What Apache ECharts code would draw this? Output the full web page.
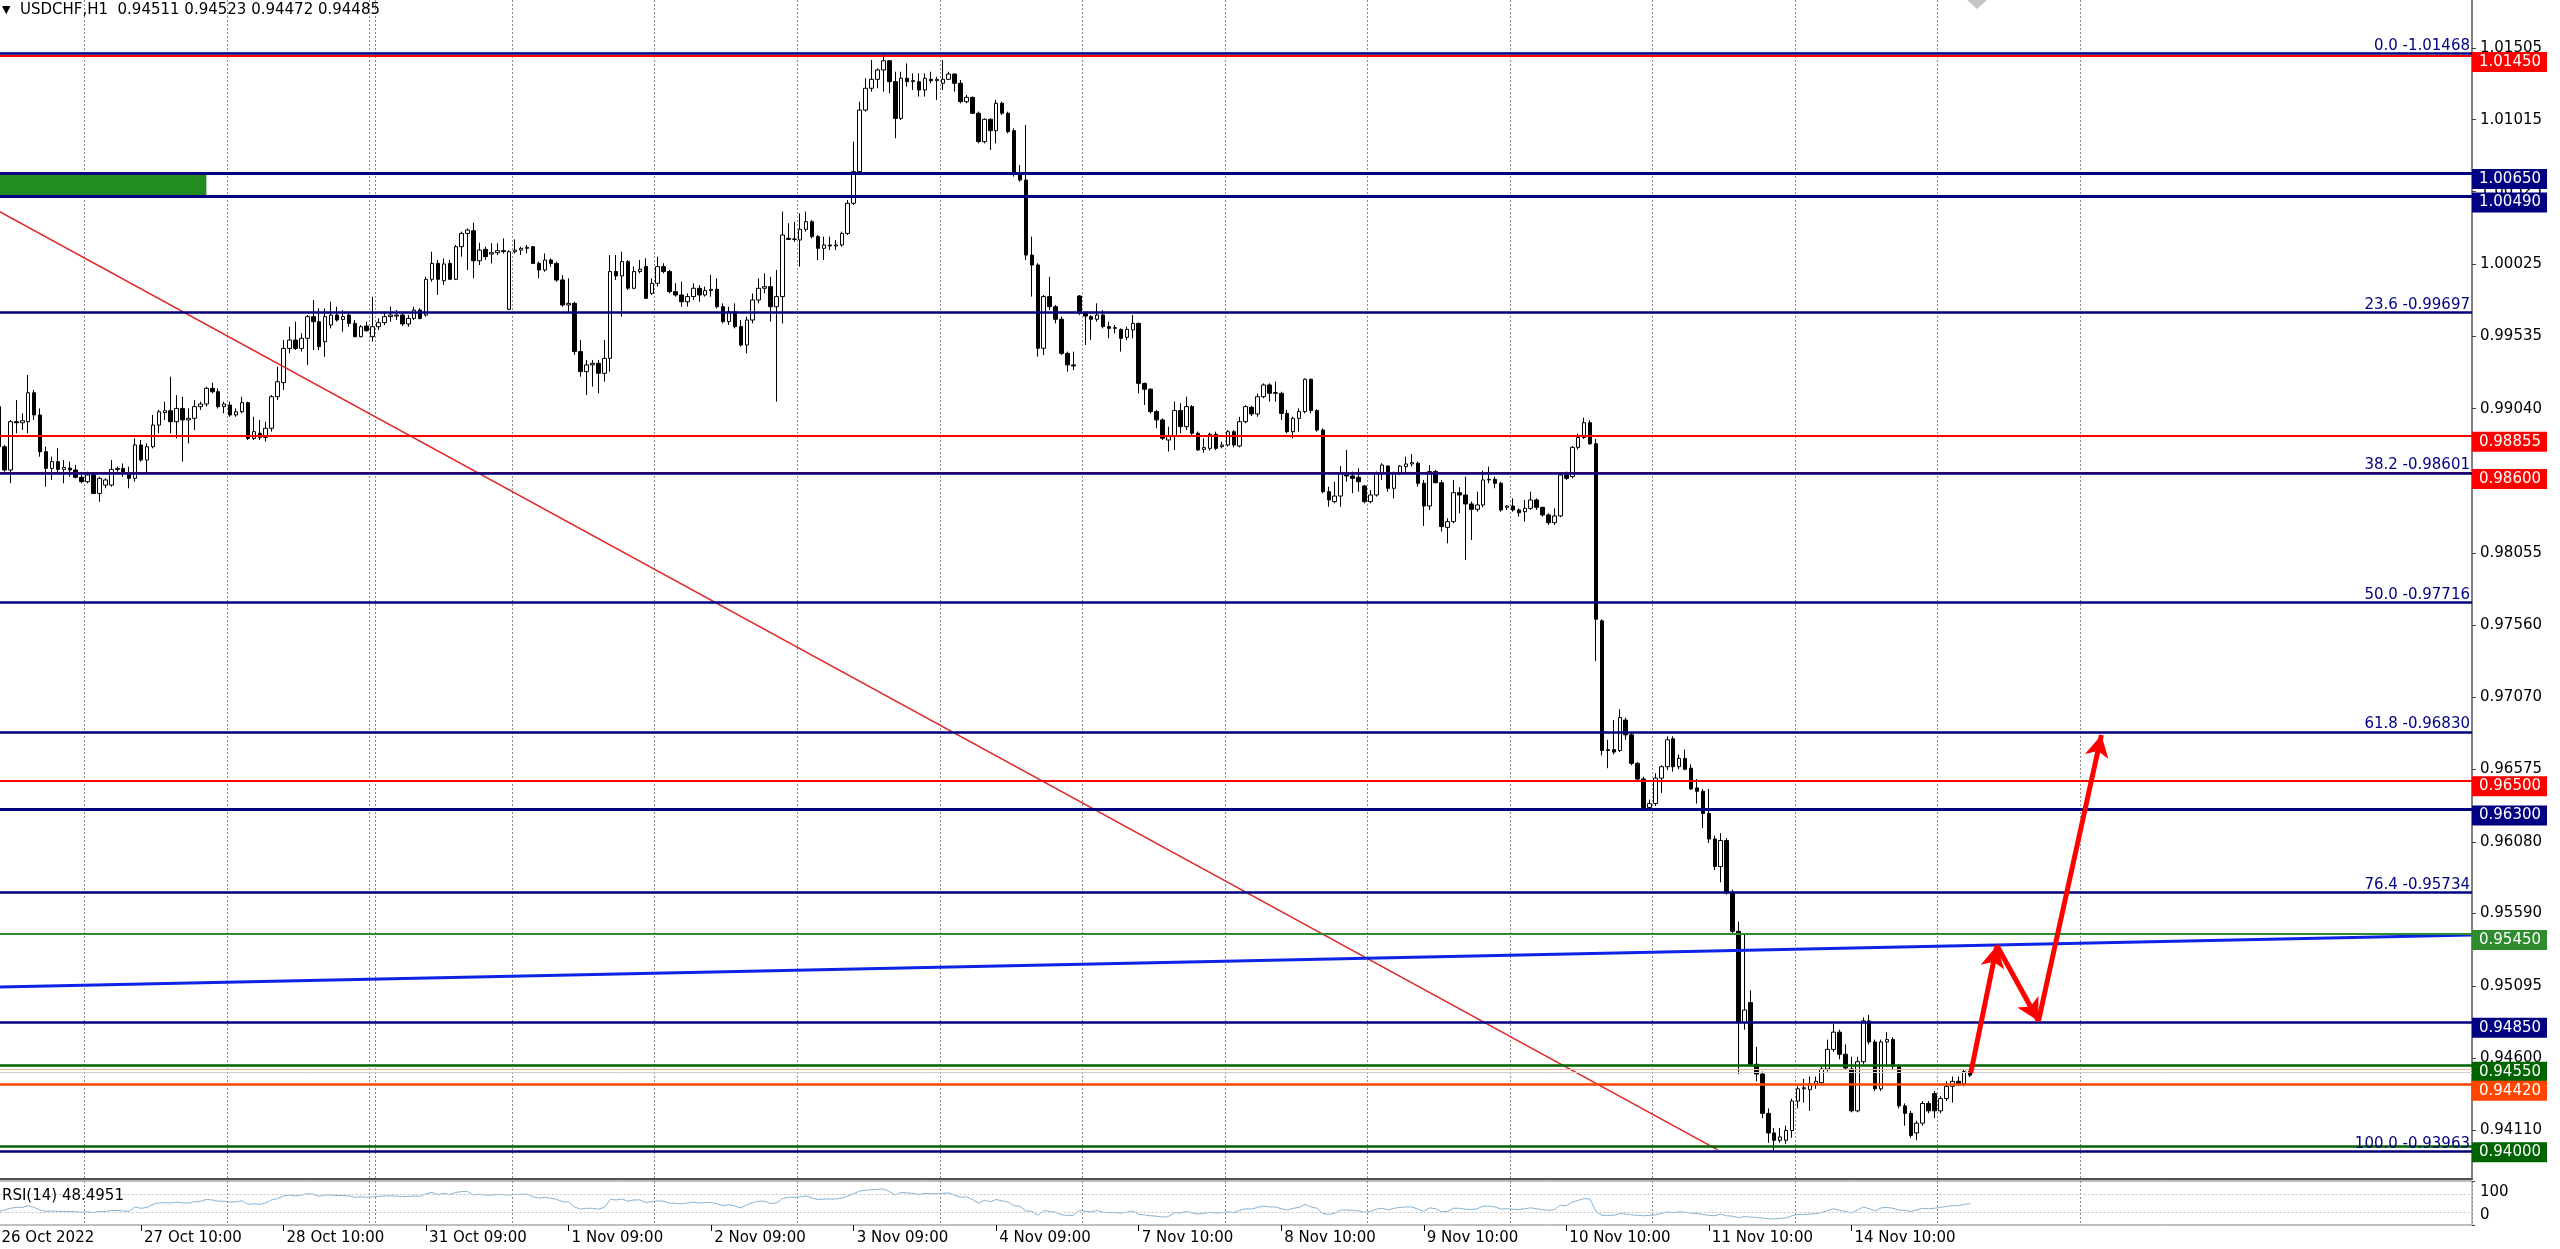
<!DOCTYPE html>
<html><head><meta charset="utf-8">
<script src="https://cdn.jsdelivr.net/npm/echarts@6/dist/echarts.min.js"></script>
<style>html,body{margin:0;padding:0;background:#fff;overflow:hidden}#chart{width:2560px;height:1249px}</style>
</head><body><div id="chart"></div>
<script>
// ---------------- DATA ----------------
const symbolName = 'USDCHF,H1';
const timeLabels = ['26 Oct 2022','27 Oct 10:00','28 Oct 10:00','31 Oct 09:00','1 Nov 09:00','2 Nov 09:00','3 Nov 09:00','4 Nov 09:00','7 Nov 10:00','8 Nov 10:00','9 Nov 10:00','10 Nov 10:00','11 Nov 10:00','14 Nov 10:00'];
const opens = [
0.99054,0.98780,0.98621,0.98951,0.98944,0.98951,0.99149,0.98997,0.98746,0.98632,
0.98678,0.98625,0.98634,0.98621,0.98571,0.98541,0.98587,0.98461,0.98518,0.98518,
0.98625,0.98632,0.98598,0.98564,0.98792,0.98689,0.98780,0.98928,0.99013,0.99026,
0.98951,0.99042,0.98963,0.98974,0.99054,0.99072,0.99179,0.99156,0.99054,0.99065,
0.98997,0.99019,0.99081,0.98837,0.98872,0.98844,0.98906,0.99122,0.99218,0.99452,
0.99509,0.99452,0.99521,0.99669,0.99635,0.99498,0.99612,0.99680,0.99650,0.99680,
0.99623,0.99532,0.99605,0.99532,0.99600,0.99628,0.99669,0.99673,0.99680,0.99619,
0.99657,0.99714,0.99680,0.99924,1.00033,0.99915,1.00033,0.99924,1.00147,1.00238,
1.00256,1.00051,1.00129,1.00097,1.00106,1.00120,0.99719,1.00113,1.00124,1.00136,
1.00147,1.00033,0.99988,1.00056,1.00033,0.99920,0.99749,0.99760,0.99430,0.99293,
0.99339,0.99350,0.99282,0.99384,0.99977,0.99947,1.00045,0.99863,0.99977,1.00011,
0.99828,0.99897,1.00011,0.99977,0.99840,0.99817,0.99771,0.99806,0.99863,0.99817,
0.99847,0.99856,0.99737,0.99635,0.99703,0.99601,0.99475,0.99646,0.99783,0.99863,
0.99874,0.99737,0.99806,1.00204,1.00197,1.00193,1.00266,1.00318,1.00216,1.00136,
1.00159,1.00152,1.00159,1.00238,1.00444,1.00660,1.01081,1.01230,1.01291,1.01355,
1.01418,1.01275,1.01024,1.01298,1.01275,1.01275,1.01218,1.01291,1.01282,1.01264,
1.01291,1.01327,1.01264,1.01138,1.01168,1.01059,1.00865,1.01018,1.00940,1.01127,
1.01059,1.00940,1.00653,1.00603,1.00090,1.00022,0.99453,0.99806,0.99737,0.99651,
0.99418,0.99339,0.99810,0.99692,0.99669,0.99651,0.99680,0.99601,0.99589,0.99582,
0.99528,0.99578,0.99623,0.99213,0.99173,0.99020,0.98963,0.98826,0.98849,0.99027,
0.98917,0.99054,0.98872,0.98762,0.98769,0.98865,0.98781,0.98792,0.98883,0.98785,
0.98951,0.99049,0.99004,0.99122,0.99202,0.99145,0.99145,0.99008,0.98883,0.98974,
0.99020,0.99241,0.99027,0.98894,0.98473,0.98405,0.98443,0.98587,0.98580,0.98571,
0.98512,0.98405,0.98450,0.98598,0.98648,0.98496,0.98598,0.98644,0.98662,0.98667,
0.98530,0.98375,0.98610,0.98534,0.98229,0.98268,0.98466,0.98450,0.98389,0.98352,
0.98382,0.98553,0.98557,0.98530,0.98366,0.98375,0.98348,0.98336,0.98359,0.98416,
0.98366,0.98314,0.98261,0.98307,0.98587,0.98576,0.98776,0.98843,0.98944,0.98800,
0.97590,0.96704,0.96710,0.96704,0.96912,0.96811,0.96616,0.96509,0.96314,0.96341,
0.96515,0.96593,0.96784,0.96593,0.96650,0.96583,0.96448,0.96425,0.96274,0.96099,
0.95911,0.96089,0.95736,0.95468,0.94846,0.94981,0.94560,0.94493,0.94224,0.94090,
0.94040,0.94040,0.94107,0.94308,0.94392,0.94386,0.94426,0.94433,0.94527,0.94661,
0.94779,0.94628,0.94527,0.94241,0.94577,0.94856,0.94712,0.94392,0.94712,0.94728,
0.94544,0.94275,0.94224,0.94090,0.94157,0.94292,0.94359,0.94241,0.94325,0.94409,
0.94443,0.94426,0.94511];
const highs = [
0.99224,0.98792,0.98963,0.99099,0.99008,0.99270,0.99168,0.99042,0.98780,0.98712,
0.98769,0.98689,0.98678,0.98655,0.98587,0.98609,0.98598,0.98575,0.98564,0.98689,
0.98644,0.98666,0.98644,0.98837,0.98826,0.98803,0.98997,0.99031,0.99088,0.99259,
0.99133,0.99122,0.99042,0.99099,0.99088,0.99190,0.99218,0.99179,0.99088,0.99088,
0.99042,0.99122,0.99088,0.98985,0.98963,0.98951,0.99133,0.99327,0.99509,0.99600,
0.99635,0.99555,0.99680,0.99783,0.99726,0.99726,0.99771,0.99737,0.99714,0.99692,
0.99646,0.99612,0.99635,0.99805,0.99657,0.99703,0.99737,0.99714,0.99692,0.99680,
0.99737,0.99726,0.99942,1.00113,1.00056,1.00067,1.00056,1.00159,1.00250,1.00272,
1.00311,1.00174,1.00147,1.00170,1.00170,1.00204,1.00124,1.00197,1.00147,1.00159,
1.00152,1.00045,1.00101,1.00067,1.00045,0.99954,0.99931,0.99771,0.99510,0.99373,
0.99373,0.99373,0.99510,1.00090,1.00090,1.00113,1.00056,1.00011,1.00056,1.00068,
0.99931,1.00079,1.00034,0.99988,0.99897,0.99908,0.99828,0.99897,0.99885,0.99874,
0.99954,0.99931,0.99760,0.99737,0.99760,0.99646,0.99669,0.99828,0.99931,0.99965,
0.99942,0.99988,1.00387,1.00307,1.00318,1.00375,1.00387,1.00330,1.00227,1.00216,
1.00216,1.00193,1.00250,1.00466,1.00865,1.01138,1.01298,1.01423,1.01366,1.01468,
1.01423,1.01343,1.01343,1.01400,1.01332,1.01332,1.01332,1.01343,1.01309,1.01423,
1.01343,1.01332,1.01286,1.01184,1.01173,1.01070,1.01024,1.01024,1.01150,1.01138,
1.01070,1.00956,1.00705,1.00979,1.00216,1.00034,0.99817,0.99942,0.99749,0.99669,
0.99430,0.99430,0.99817,0.99703,0.99680,0.99760,0.99714,0.99635,0.99612,0.99589,
0.99601,0.99680,0.99628,0.99218,0.99179,0.99031,0.98974,0.98917,0.99088,0.99077,
0.99122,0.99065,0.98883,0.98838,0.98876,0.98883,0.98815,0.98894,0.98894,0.98985,
0.99065,0.99059,0.99145,0.99213,0.99213,0.99225,0.99156,0.99031,0.98985,0.99042,
0.99247,0.99247,0.99036,0.98906,0.98507,0.98541,0.98648,0.98758,0.98610,0.98633,
0.98518,0.98484,0.98610,0.98667,0.98655,0.98610,0.98655,0.98712,0.98730,0.98678,
0.98553,0.98655,0.98621,0.98553,0.98291,0.98553,0.98503,0.98576,0.98405,0.98473,
0.98617,0.98644,0.98576,0.98541,0.98382,0.98427,0.98359,0.98416,0.98473,0.98427,
0.98370,0.98325,0.98359,0.98598,0.98610,0.98785,0.98870,0.98978,0.98961,0.98833,
0.97601,0.96777,0.96912,0.96986,0.96929,0.96828,0.96626,0.96525,0.96368,0.96549,
0.96603,0.96801,0.96801,0.96677,0.96710,0.96610,0.96509,0.96441,0.96441,0.96122,
0.96139,0.96106,0.95753,0.95535,0.95451,0.95065,0.94678,0.94510,0.94258,0.94124,
0.94124,0.94140,0.94325,0.94409,0.94460,0.94476,0.94476,0.94544,0.94728,0.94836,
0.94796,0.94695,0.94611,0.94611,0.94880,0.94897,0.94728,0.94728,0.94779,0.94745,
0.94560,0.94292,0.94241,0.94174,0.94308,0.94308,0.94376,0.94342,0.94443,0.94476,
0.94476,0.94527,0.94523];
const lows = [
0.98735,0.98609,0.98530,0.98872,0.98894,0.98872,0.98963,0.98712,0.98507,0.98553,
0.98598,0.98530,0.98575,0.98564,0.98530,0.98530,0.98456,0.98404,0.98496,0.98507,
0.98609,0.98575,0.98496,0.98541,0.98678,0.98598,0.98769,0.98872,0.98963,0.98872,
0.98837,0.98678,0.98803,0.98894,0.99031,0.99054,0.99145,0.99042,0.99008,0.98985,
0.98985,0.99008,0.98826,0.98826,0.98826,0.98815,0.98883,0.99099,0.99168,0.99418,
0.99441,0.99430,0.99338,0.99441,0.99441,0.99395,0.99589,0.99635,0.99566,0.99600,
0.99528,0.99528,0.99566,0.99498,0.99578,0.99612,0.99635,0.99646,0.99605,0.99600,
0.99646,0.99650,0.99669,0.99908,0.99817,0.99885,0.99919,0.99919,1.00079,0.99988,
0.99931,1.00022,1.00056,1.00033,1.00090,1.00101,0.99714,1.00101,1.00090,1.00101,
1.00029,0.99931,0.99976,1.00010,0.99908,0.99737,0.99703,0.99407,0.99259,0.99134,
0.99191,0.99145,0.99225,0.99293,0.99920,0.99669,0.99851,0.99856,0.99965,0.99790,
0.99817,0.99874,0.99965,0.99828,0.99806,0.99737,0.99737,0.99783,0.99771,0.99806,
0.99806,0.99726,0.99623,0.99612,0.99589,0.99464,0.99418,0.99623,0.99760,0.99828,
0.99635,0.99088,0.99623,1.00193,1.00181,1.00011,1.00250,1.00204,1.00056,1.00056,
1.00124,1.00124,1.00147,1.00227,1.00432,1.00648,1.01070,1.01207,1.01230,1.01207,
1.01195,1.00888,1.01013,1.01241,1.01218,1.01173,1.01173,1.01264,1.01150,1.01218,
1.01286,1.01207,1.01127,1.01127,1.01054,1.00853,1.00853,1.00808,1.00853,1.01047,
1.00922,1.00626,1.00592,1.00056,0.99806,0.99396,0.99407,0.99714,0.99623,0.99407,
0.99293,0.99304,0.99680,0.99475,0.99509,0.99635,0.99589,0.99521,0.99555,0.99430,
0.99509,0.99521,0.99145,0.99065,0.99008,0.98906,0.98826,0.98747,0.98758,0.98872,
0.98894,0.98860,0.98753,0.98739,0.98753,0.98758,0.98769,0.98781,0.98776,0.98776,
0.98940,0.98990,0.98985,0.99111,0.99088,0.99088,0.98963,0.98872,0.98838,0.98883,
0.99008,0.99008,0.98883,0.98462,0.98370,0.98393,0.98370,0.98541,0.98462,0.98473,
0.98393,0.98393,0.98439,0.98553,0.98473,0.98427,0.98587,0.98598,0.98644,0.98507,
0.98238,0.98348,0.98530,0.98200,0.98120,0.98257,0.98325,0.98006,0.98143,0.98336,
0.98366,0.98530,0.98496,0.98336,0.98348,0.98336,0.98302,0.98268,0.98348,0.98348,
0.98302,0.98245,0.98245,0.98298,0.98553,0.98564,0.98760,0.98833,0.98793,0.97315,
0.96670,0.96583,0.96677,0.96693,0.96777,0.96603,0.96492,0.96307,0.96300,0.96324,
0.96414,0.96570,0.96559,0.96576,0.96569,0.96435,0.96341,0.96173,0.96072,0.95887,
0.95803,0.95719,0.95451,0.94493,0.94796,0.94544,0.94443,0.94191,0.94023,0.93965,
0.94023,0.94016,0.94057,0.94258,0.94298,0.94241,0.94392,0.94419,0.94510,0.94644,
0.94594,0.94520,0.94231,0.94231,0.94560,0.94695,0.94376,0.94376,0.94544,0.94527,
0.94258,0.94140,0.94057,0.94040,0.94140,0.94224,0.94191,0.94224,0.94308,0.94298,
0.94409,0.94409,0.94472];
const closes = [
0.98780,0.98621,0.98951,0.98944,0.98958,0.99149,0.98997,0.98746,0.98632,0.98678,
0.98625,0.98639,0.98621,0.98571,0.98541,0.98587,0.98461,0.98564,0.98553,0.98625,
0.98632,0.98598,0.98564,0.98792,0.98689,0.98780,0.98928,0.99019,0.99026,0.98951,
0.99042,0.98963,0.98974,0.99054,0.99072,0.99179,0.99156,0.99054,0.99072,0.98997,
0.99019,0.99081,0.98837,0.98883,0.98844,0.98906,0.99122,0.99224,0.99452,0.99509,
0.99452,0.99521,0.99669,0.99635,0.99464,0.99669,0.99680,0.99646,0.99669,0.99623,
0.99532,0.99600,0.99573,0.99600,0.99628,0.99669,0.99680,0.99680,0.99619,0.99657,
0.99714,0.99657,0.99924,1.00033,0.99924,1.00029,0.99924,1.00147,1.00238,1.00261,
1.00051,1.00124,1.00079,1.00106,1.00120,1.00115,1.00113,1.00124,1.00136,1.00143,
1.00033,0.99988,1.00056,1.00033,0.99919,0.99749,0.99760,0.99430,0.99293,0.99339,
0.99350,0.99282,0.99384,0.99977,0.99947,1.00045,0.99863,0.99977,0.99993,0.99794,
0.99897,1.00011,0.99977,0.99840,0.99817,0.99771,0.99806,0.99863,0.99817,0.99847,
0.99856,0.99737,0.99635,0.99703,0.99601,0.99475,0.99646,0.99783,0.99863,0.99874,
0.99737,0.99806,1.00227,1.00197,1.00200,1.00266,1.00318,1.00216,1.00136,1.00159,
1.00152,1.00159,1.00238,1.00444,1.00660,1.01081,1.01230,1.01291,1.01355,1.01418,
1.01275,1.01024,1.01298,1.01275,1.01282,1.01218,1.01298,1.01282,1.01291,1.01291,
1.01327,1.01264,1.01138,1.01168,1.01059,1.00865,1.01018,1.00940,1.01127,1.01059,
1.00933,1.00653,1.00603,1.00090,1.00022,0.99453,0.99806,0.99737,0.99651,0.99418,
0.99339,0.99332,0.99692,0.99673,0.99651,0.99680,0.99601,0.99589,0.99594,0.99521,
0.99582,0.99623,0.99213,0.99173,0.99020,0.98963,0.98838,0.98849,0.99027,0.98917,
0.99054,0.98872,0.98758,0.98774,0.98865,0.98769,0.98792,0.98883,0.98792,0.98951,
0.99054,0.99004,0.99122,0.99202,0.99145,0.99150,0.99008,0.98883,0.98974,0.99020,
0.99241,0.99027,0.98894,0.98473,0.98416,0.98443,0.98598,0.98580,0.98564,0.98541,
0.98405,0.98450,0.98598,0.98655,0.98496,0.98598,0.98648,0.98662,0.98671,0.98530,
0.98375,0.98610,0.98534,0.98234,0.98268,0.98466,0.98450,0.98389,0.98352,0.98382,
0.98553,0.98557,0.98530,0.98348,0.98375,0.98348,0.98329,0.98359,0.98416,0.98366,
0.98314,0.98261,0.98307,0.98587,0.98564,0.98776,0.98843,0.98944,0.98800,0.97601,
0.96704,0.96710,0.96693,0.96929,0.96811,0.96616,0.96509,0.96314,0.96341,0.96515,
0.96593,0.96777,0.96593,0.96650,0.96576,0.96441,0.96425,0.96274,0.96099,0.95911,
0.96089,0.95736,0.95468,0.94846,0.94930,0.94560,0.94493,0.94224,0.94090,0.94040,
0.94063,0.94107,0.94308,0.94392,0.94399,0.94426,0.94443,0.94527,0.94661,0.94779,
0.94628,0.94534,0.94241,0.94577,0.94856,0.94712,0.94392,0.94712,0.94728,0.94544,
0.94275,0.94224,0.94073,0.94157,0.94292,0.94241,0.94241,0.94325,0.94409,0.94443,
0.94426,0.94510,0.94485];
const rsiValues = [
30,34,38,40,40,44,40,34,31,32, 31,31,31,30,29,30,28,31,31,33,
33,32,31,41,38,40,47,50,51,50, 52,50,50,53,54,58,57,54,54,52,
53,55,47,48,47,50,57,60,66,68, 66,68,71,70,65,68,68,67,67,66,
63,64,63,64,65,66,66,66,64,65, 66,65,71,74,69,72,69,74,76,76,
68,70,68,68,69,69,68,69,70,70, 64,61,63,61,58,53,52,41,36,38,
38,36,40,58,57,59,54,57,57,51, 53,55,54,50,49,48,50,52,50,51,
51,48,44,46,43,39,46,51,54,54, 49,50,60,63,63,64,66,61,58,59,
59,59,61,66,71,77,79,80,81,82, 76,68,74,73,72,69,72,71,71,72,
73,68,63,64,58,50,56,53,58,55, 52,44,42,32,31,22,33,31,29,23,
22,22,33,31,30,33,29,28,28,27, 29,32,24,23,21,20,18,19,28,27,
31,27,25,26,29,27,28,30,28,33, 37,36,40,43,41,41,37,34,38,40,
47,41,38,26,24,27,34,34,33,32, 29,31,36,38,34,38,40,41,41,36,
31,39,37,30,31,38,38,36,35,37, 43,43,41,36,37,36,35,37,39,37,
35,33,35,45,44,52,56,60,59,30, 22,22,22,26,25,23,22,21,22,23,
26,30,28,30,29,27,26,24,22,21, 25,21,20,17,19,18,17,16,14,14,
15,16,21,24,24,25,26,28,33,37, 33,31,27,34,41,37,32,39,40,38,
34,33,31,34,38,37,38,40,42,44, 44,47,48.4951];
const priceTicks = [1.01505,1.01015,1.00525,1.00025,0.99535,0.99040,0.98550,0.98055,0.97560,0.97070,0.96575,0.96080,0.95590,0.95095,0.94600,0.94110];
const levelValues = [1.01450,1.00650,1.00490,0.98855,0.98600,0.96500,0.96300,0.95450,0.94850,0.94550,0.94420,0.94000];
const fibRatios = ['0.0','23.6','38.2','50.0','61.8','76.4','100.0'];
const fibValues = [1.01468,0.99697,0.98601,0.97716,0.96830,0.95734,0.93963];
const quoteLines = [0.94525,0.94502];
const redTrend = [[0,1.00391],[289.5,0.93974]];
const blueTrend = [[0,0.95087],[416.4,0.95443]];
const arrowPath = [[332.1,0.94500],[336.5,0.95371],[343.5,0.94855],[354.1,0.96810]];
const greenZone = [[-0.5,1.00490],[35,1.00650]];
const rsiLevels = [70,30];
const rsiTicks = [0,30,70,100];

// ---------------- STYLE / LAYOUT ----------------
const FONT = "'DejaVu Sans', sans-serif";
const NAVY = '#000080';
const levelColors = ['#ff0000',NAVY,NAVY,'#ff0000','#ff0000','#ff0000',NAVY,'#2e8b2e',NAVY,'#006400','#ff4500','#006400'];
const levelWidths = [2,3,3,2,2,2,3,2,2.5,2.5,2.5,2.5];
const quoteColors = ['#f3b49a','#cfcfcf'];
const slotCount = 417, labelStep = 24, gridFirst = 15, gridStep = 24, gridLast = 351, extraGrid = 64;
const categories = Array.from({length: slotCount}, (_, i) => String(i));
const last = closes.length - 1;

const candleData = opens.map((o, i) => [o, closes[i], lows[i], highs[i]]);
const gridLineFn = (i) => (i >= gridFirst && i <= gridLast && (i - gridFirst) % gridStep === 0) || i === extraGrid;
const labelFn = (i) => i % labelStep === 0 && (i / labelStep) < timeLabels.length;

const levelMarks = levelValues.map((v, i) => ({
  yAxis: v,
  lineStyle: {color: levelColors[i], width: levelWidths[i], type: 'solid'},
  label: {show: true, position: 'end', distance: 0, formatter: v.toFixed(5), color: '#fff',
    backgroundColor: levelColors[i], padding: [2, 6, 1, 7], fontSize: 15, lineHeight: 17,
    fontFamily: FONT, offset: [0, 6]}
}));
const quoteMarks = quoteLines.map((v, i) => ({yAxis: v, lineStyle: {color: quoteColors[i], width: 1, type: 'solid'}, label: {show: false}}));
const fibMarks = fibValues.map((v, i) => ({
  yAxis: v,
  lineStyle: {color: NAVY, width: 2.5, type: 'solid'},
  label: {show: true, position: 'insideEndTop', distance: 0, formatter: fibRatios[i] + ' -' + v.toFixed(5),
    color: NAVY, fontSize: 15, fontFamily: FONT, padding: [0, 2, 0, 0]}
}));

const chart = echarts.init(document.getElementById('chart'), null, {renderer: 'canvas'});
chart.setOption({
  animation: false,
  backgroundColor: '#ffffff',
  textStyle: {fontFamily: FONT},
  title: [
    {left: 2, top: 3, padding: 0,
     text: '{t|\u25BC}  ' + symbolName + '  ' + [opens[last], highs[last], lows[last], closes[last]].map(v => v.toFixed(5)).join(' '),
     textStyle: {fontSize: 15, fontWeight: 'normal', color: '#000', fontFamily: FONT, rich: {t: {fontSize: 11, color: '#000'}}}},
    {left: 2, top: 1189, padding: 0,
     text: 'RSI(14) ' + rsiValues[last].toFixed(4),
     textStyle: {fontSize: 15, fontWeight: 'normal', color: '#000', fontFamily: FONT}}
  ],
  grid: [
    {left: -4.47, right: 88, top: 0, height: 1179, outerBoundsMode: 'none', containLabel: false},
    {left: -4.47, right: 88, top: 1181, height: 44, outerBoundsMode: 'none', containLabel: false,
     show: true, borderColor: '#808080', borderWidth: 1, backgroundColor: 'transparent'}
  ],
  xAxis: [
    {type: 'category', gridIndex: 0, data: categories, boundaryGap: true,
     axisLine: {show: true, onZero: false, lineStyle: {color: '#505050', width: 2}},
     axisTick: {show: false}, axisLabel: {show: false},
     splitLine: {show: true, interval: gridLineFn, lineStyle: {color: '#8a8a8a', type: [2, 2], width: 1}}},
    {type: 'category', gridIndex: 1, data: categories, boundaryGap: true,
     axisLine: {show: false, onZero: false},
     axisTick: {show: true, interval: labelFn, alignWithLabel: true, length: 6, lineStyle: {color: '#000'}},
     axisLabel: {show: true, interval: labelFn, formatter: (v, i) => timeLabels[i / labelStep] || '',
       align: 'left', margin: 6, padding: [0, 0, 0, 3], fontSize: 15, color: '#000', fontFamily: FONT},
     splitLine: {show: true, interval: gridLineFn, lineStyle: {color: '#8a8a8a', type: [2, 2], width: 1}}},
    {type: 'value', gridIndex: 0, min: -0.5, max: slotCount - 0.5, show: false}
  ],
  yAxis: [
    {type: 'value', gridIndex: 0, position: 'right', min: 0.937754, max: 1.018331, scale: true,
     axisLine: {show: true, onZero: false, lineStyle: {color: '#808080', width: 2}},
     axisTick: {show: true, customValues: priceTicks, length: 4, lineStyle: {color: '#404040'}},
     axisLabel: {show: true, customValues: priceTicks, formatter: v => v.toFixed(5), margin: 8,
       fontSize: 15, color: '#000', fontFamily: FONT, hideOverlap: false},
     splitLine: {show: false}},
    {type: 'value', gridIndex: 1, position: 'right', min: 0, max: 100,
     axisLine: {show: false, onZero: false},
     axisTick: {show: true, customValues: rsiTicks, length: 3, lineStyle: {color: '#404040'}},
     axisLabel: {show: true, customValues: rsiTicks, margin: 8, fontSize: 15, color: '#000', fontFamily: FONT,
       hideOverlap: false, showMinLabel: true, showMaxLabel: true,
       formatter: v => v === 100 ? '{dn|100}' : (v === 0 ? '{up|0}' : String(v)),
       rich: {dn: {fontSize: 15, padding: [22, 0, 0, 0], color: '#000'}, up: {fontSize: 15, padding: [0, 0, 20, 0], color: '#000'}}},
     splitLine: {show: false}}
  ],
  series: [
    {type: 'line', name: 'zone', xAxisIndex: 2, yAxisIndex: 0, data: greenZone, symbol: 'none', silent: true, z: 1,
     lineStyle: {opacity: 0},
     markArea: {silent: true, itemStyle: {color: '#228b22', opacity: 1},
       data: [[{coord: greenZone[0]}, {coord: greenZone[1]}]]}},
    {type: 'candlestick', name: symbolName, xAxisIndex: 0, yAxisIndex: 0, data: candleData, barWidth: 4, z: 2,
     itemStyle: {color: '#ffffff', color0: '#000000', borderColor: '#000000', borderColor0: '#000000', borderWidth: 1},
     markLine: {silent: true, symbol: ['none', 'none'], precision: 5,
       data: [...levelMarks, ...quoteMarks, ...fibMarks]}},
    {type: 'line', name: 'downtrend', xAxisIndex: 2, yAxisIndex: 0, data: redTrend, symbol: 'none', silent: true, z: 3,
     lineStyle: {color: '#e02424', width: 1.5}},
    {type: 'line', name: 'uptrend', xAxisIndex: 2, yAxisIndex: 0, data: blueTrend, symbol: 'none', silent: true, z: 3,
     lineStyle: {color: '#0d24e6', width: 3}},
    {type: 'line', name: 'arrows', xAxisIndex: 2, yAxisIndex: 0, data: arrowPath, symbol: 'none', silent: true, z: 4,
     lineStyle: {opacity: 0},
     markLine: {silent: true, symbol: ['none', 'arrow'], symbolSize: [18, 22],
       lineStyle: {color: '#ff0000', width: 5, type: 'solid'}, label: {show: false},
       data: arrowPath.slice(1).map((p, i) => [{coord: arrowPath[i]}, {coord: p}])}},
    {type: 'line', name: 'RSI(14)', xAxisIndex: 1, yAxisIndex: 1, data: rsiValues, symbol: 'none', silent: true,
     lineStyle: {color: '#86b3d3', width: 1},
     markLine: {silent: true, symbol: ['none', 'none'], label: {show: false},
       lineStyle: {color: '#c4c4c4', type: [2, 2], width: 1},
       data: rsiLevels.map(v => ({yAxis: v}))}}
  ],
  graphic: [
    {type: 'polygon', silent: true, shape: {points: [[1967, 0], [1987, 0], [1977, 9]]}, style: {fill: '#c4c4c4'}}
  ]
});
</script>
</body></html>
